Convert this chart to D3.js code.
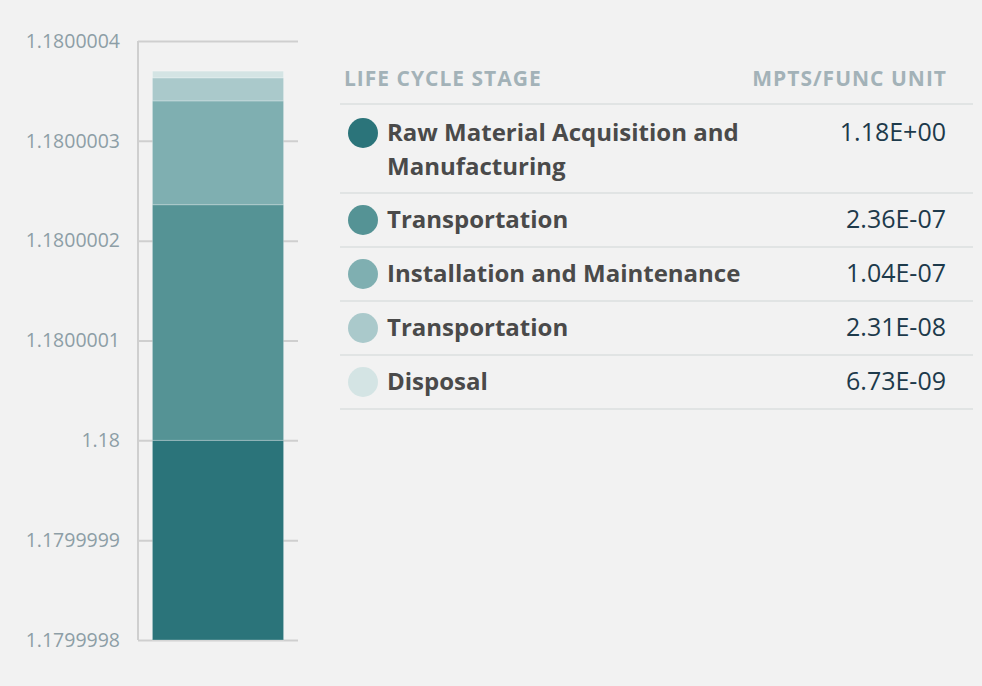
<!DOCTYPE html>
<html>
<head>
<meta charset="utf-8">
<script src="https://cdn.jsdelivr.net/npm/d3@7"></script>
<style>
  body { margin: 0; background: #f2f2f2; }
  svg { display: block; font-family: "Open Sans", Lato, sans-serif; }
</style>
</head>
<body>
<div id="chart"></div>
<script>
// data
const stages = ["Raw Material Acquisition and Manufacturing", "Transportation", "Installation and Maintenance", "Transportation", "Disposal"]
const values = [1.18, 2.36e-7, 1.04e-7, 2.31e-8, 6.73e-9]
const valueLabels = ["1.18E+00", "2.36E-07", "1.04E-07", "2.31E-08", "6.73E-09"]
const colors = ["#2b747a", "#559395", "#7fafb1", "#aac9cb", "#d4e4e4"]
const tickValues = [1.1799998, 1.1799999, 1.18, 1.1800001, 1.1800002, 1.1800003, 1.1800004]
const tickLabels = ["1.1799998", "1.1799999", "1.18", "1.1800001", "1.1800002", "1.1800003", "1.1800004"]

const width = 982, height = 686

const svg = d3.select('#chart')
  .append('svg')
  .attr('width', width)
  .attr('height', height)
  .style('background', '#f2f2f2')

// scales
const y = d3.scaleLinear()
  .domain([1.1799998, 1.1800004])
  .range([640, 41])
  .clamp(true)

const x = d3.scaleBand()
  .domain(['total'])
  .range([138, 298])
  .paddingOuter(0.11)

// gridlines + axis
const yAxis = d3.axisRight(y)
  .tickValues(tickValues)
  .tickSize(160)
  .tickFormat((d, i) => tickLabels[i])

const axisG = svg.append('g')
  .attr('transform', 'translate(138,0)')
  .call(yAxis)

axisG.select('.domain').attr('stroke', '#cfcfcf').attr('stroke-width', 2)
  .attr('d', `M0,${y.range()[1]}V${y.range()[0]}`)
axisG.selectAll('.tick line').attr('stroke', '#cfcfcf').attr('stroke-width', 2)
axisG.selectAll('.tick text')
  .attr('x', -18)
  .attr('text-anchor', 'end')
  .attr('fill', '#8d9ea6')
  .style('font-size', '19.5px')
  .style('font-family', '"Open Sans", sans-serif')

// stacked bar
let acc = 0
const segs = values.map((v, i) => {
  const s = { y0: acc, y1: acc + v, color: colors[i] }
  acc += v
  return s
})

svg.append('g')
  .selectAll('rect')
  .data(segs)
  .enter()
  .append('rect')
  .attr('x', x('total'))
  .attr('width', x.bandwidth())
  .attr('y', d => y(d.y1))
  .attr('height', d => y(d.y0) - y(d.y1))
  .attr('fill', d => d.color)
  .attr('stroke', 'rgba(255,255,255,0.25)')
  .attr('stroke-width', 1)

// table legend
const tx0 = 340, tx1 = 973, valX = 946
const table = svg.append('g')

table.append('text')
  .attr('x', 344).attr('y', 86)
  .attr('fill', '#a3b2b8')
  .style('font-size', '21px').style('font-weight', 700)
  .style('letter-spacing', '1px')
  .text('LIFE CYCLE STAGE')

table.append('text')
  .attr('x', valX + 1).attr('y', 86)
  .attr('text-anchor', 'end')
  .attr('fill', '#a3b2b8')
  .style('font-size', '21px').style('font-weight', 700)
  .style('letter-spacing', '1px')
  .text('MPTS/FUNC UNIT')

const rowTops = [104, 193, 247, 301, 355, 409]

table.selectAll('line.sep')
  .data(rowTops)
  .enter()
  .append('line')
  .attr('class', 'sep')
  .attr('x1', tx0).attr('x2', tx1)
  .attr('y1', d => d).attr('y2', d => d)
  .attr('stroke', '#e1e4e4')
  .attr('stroke-width', 2)

const rows = table.selectAll('g.row')
  .data(stages)
  .enter()
  .append('g')
  .attr('class', 'row')
  .attr('transform', (d, i) => `translate(0,${i === 0 ? 133 : rowTops[i] + 27})`)

rows.append('circle')
  .attr('cx', 363).attr('cy', 0).attr('r', 15)
  .attr('fill', (d, i) => colors[i])

rows.append('text')
  .attr('x', 387)
  .attr('y', 8)
  .attr('fill', '#4a4a4a')
  .style('font-size', '24px').style('font-weight', 700)
  .each(function(d, i) {
    const t = d3.select(this)
    if (i === 0) {
      t.append('tspan').attr('x', 387).attr('dy', 0).text('Raw Material Acquisition and')
      t.append('tspan').attr('x', 387).attr('dy', 34).text('Manufacturing')
    } else {
      t.text(d)
    }
  })

rows.append('text')
  .attr('x', valX).attr('y', 8)
  .attr('text-anchor', 'end')
  .attr('fill', '#1d3a4b')
  .style('font-size', '25px')
  .text((d, i) => valueLabels[i])
</script>
</body>
</html>
